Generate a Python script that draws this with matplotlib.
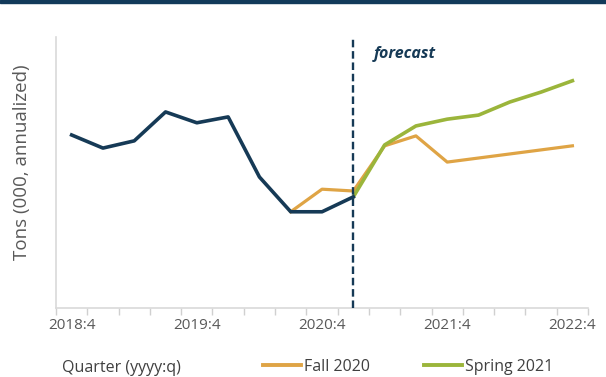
import matplotlib.pyplot as plt
from matplotlib.lines import Line2D

# quarters 2018:4 .. 2022:4
quarters = ['2018:4', '2019:1', '2019:2', '2019:3', '2019:4',
            '2020:1', '2020:2', '2020:3', '2020:4',
            '2021:1', '2021:2', '2021:3', '2021:4',
            '2022:1', '2022:2', '2022:3', '2022:4']

# history (tons, 000, annualized), arbitrary scale
actual = [38.3, 35.4, 37.0, 43.4, 41.0, 42.3, 29.0, 21.3, 21.3, 24.6]
fall_2020 = [21.3, 26.3, 25.9, 35.9, 38.1, 32.3, 33.2, 34.1, 35.0, 35.9]      # from 2020:3
spring_2021 = [24.6, 36.1, 40.3, 41.8, 42.7, 45.6, 47.8, 50.3]                # from 2021:1

label_every = 4
forecast_at = 9  # 2021:1
fall_start = 7   # 2020:3

navy = '#163a56'
orange = '#dfa445'
green = '#9bb53b'
grey_txt = '#595959'

fig = plt.figure(figsize=(6.06, 3.77), dpi=100)
ax = fig.add_axes([0.0924, 0.183, 0.878, 0.719])

x = list(range(len(quarters)))

ax.plot(x[fall_start:fall_start + len(fall_2020)], fall_2020, color=orange, lw=2.3, zorder=2)
ax.plot(x[forecast_at:forecast_at + len(spring_2021)], spring_2021, color=green, lw=2.6, zorder=3)
ax.plot(x[:len(actual)], actual, color=navy, lw=2.6, zorder=4)
ax.axvline(forecast_at, color=navy, lw=1.7, ls=(0, (3.2, 1.6)), zorder=5)

ax.text(forecast_at + 0.65, 56.3, 'forecast', color=navy, fontsize=11.5,
        fontstyle='italic', fontweight='bold', family='Open Sans', va='center')

ax.set_xlim(-0.5, len(quarters) - 0.5)
ax.set_ylim(0, 60)
ax.set_yticks([])

# ticks between categories, labels every 4th quarter
ax.set_xticks([i - 0.5 for i in range(len(quarters) + 1)], minor=False)
ax.set_xticklabels([])
ax.set_xticks(x[::label_every], minor=True)
ax.set_xticklabels(quarters[::label_every], minor=True)
ax.tick_params(axis='x', which='major', length=5, color='#d0d0d0', width=1, direction='out')
ax.tick_params(axis='x', which='minor', length=0, pad=7, labelsize=11, labelcolor=grey_txt)
for t in ax.get_xticklabels(minor=True):
    t.set_family('Open Sans')

for s in ['top', 'right']:
    ax.spines[s].set_visible(False)
for s in ['left', 'bottom']:
    ax.spines[s].set_color('#d9d9d9')
    ax.spines[s].set_linewidth(1.2)

fig.text(0.037, 0.57, 'Tons (000, annualized)', rotation=90, ha='center', va='center',
         fontsize=13.5, color=grey_txt, family='Open Sans')

# bottom legend row
fig.text(0.102, 0.024, 'Quarter (yyyy:q)', fontsize=11.5, color='#404040', family='Open Sans', va='center')
handles = [Line2D([], [], color=orange, lw=2.8), Line2D([], [], color=green, lw=2.8)]
fig.legend(handles, ['Fall 2020', 'Spring 2021'], loc='center', bbox_to_anchor=(0.673, 0.027),
           ncol=2, frameon=False, handlelength=2.4, handletextpad=0.15, columnspacing=3.4,
           prop={'family': 'Open Sans', 'size': 11.5}, labelcolor='#404040')

# top band
fig.add_artist(plt.Rectangle((0, 0.991), 1, 0.009, transform=fig.transFigure, color='#123a5a'))

fig.savefig('out.png', dpi=100)
